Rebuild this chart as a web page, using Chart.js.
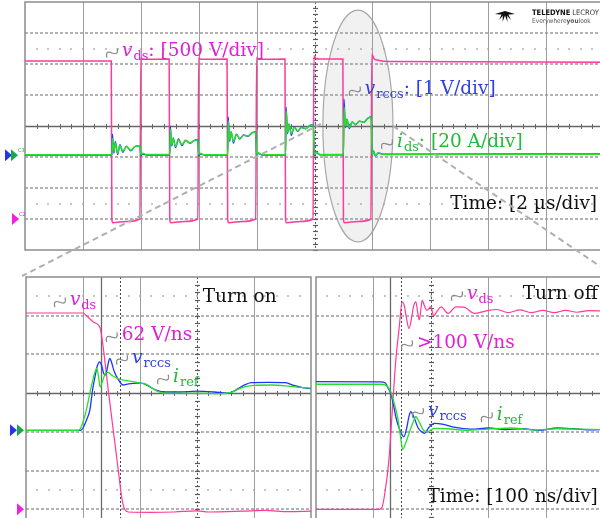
<!DOCTYPE html>
<html>
<head>
<meta charset="utf-8">
<script src="https://cdn.jsdelivr.net/npm/chart.js@4.4.1/dist/chart.umd.min.js"></script>
<style>
  html, body { margin: 0; padding: 0; background: #fff; overflow: hidden; }
  #wrap { position: relative; width: 600px; height: 518px; overflow: hidden; background: #fff; }
  canvas { position: absolute; }
</style>
</head>
<body>
<div id="wrap">
  <canvas id="topPlot" width="610" height="285" style="left:0;top:0"></canvas>
  <canvas id="onPlot" width="315" height="290" style="left:0;top:270px"></canvas>
  <canvas id="offPlot" width="300" height="290" style="left:310px;top:270px"></canvas>
</div>
<script>
// ---- data: [time, screen divisions] ----
// top screen, time in µs (2 µs/div)
const topVds = [[0,2.1],[2.98,2.1],[3.0,-3.0],[3.03,-3.12],[3.5,-3.08],[3.97,-3.0],[4.0,2.22],[4.06,2.15],[4.98,2.16],
  [5.0,-3.0],[5.03,-3.12],[5.5,-3.08],[5.97,-3.0],[6.0,2.22],[6.06,2.15],[6.98,2.16],
  [7.0,-3.0],[7.03,-3.12],[7.5,-3.08],[7.97,-3.0],[8.0,2.22],[8.06,2.15],[8.98,2.16],
  [9.0,-3.0],[9.03,-3.12],[9.5,-3.08],[9.95,-3.0],[9.98,2.27],[10.06,2.16],[10.98,2.16],
  [11.0,-3.0],[11.03,-3.12],[11.5,-3.08],[11.95,-3.0],[11.98,2.32],[12.05,2.18],[12.2,2.12],[12.6,2.08],[20,2.06]];
const topIds = [[0,-0.93],[3.0,-0.93],[3.02,-0.4],[3.07,-0.82],[3.12,-0.55],[3.2,-0.88],[3.28,-0.62],[3.38,-0.82],[3.5,-0.66],[3.65,-0.78],[3.8,-0.66],[3.97,-0.64],[4.0,-0.93],[4.05,-0.88],[4.2,-0.92],[5.0,-0.92],
  [5.02,-0.1],[5.07,-0.6],[5.12,-0.4],[5.2,-0.66],[5.3,-0.45],[5.42,-0.6],[5.55,-0.47],[5.7,-0.55],[5.85,-0.47],[5.97,-0.45],[6.0,-0.92],[6.05,-0.88],[6.2,-0.93],[7.0,-0.93],
  [7.02,0.16],[7.07,-0.45],[7.12,-0.2],[7.2,-0.5],[7.3,-0.28],[7.42,-0.4],[7.55,-0.3],[7.7,-0.32],[7.85,-0.22],[7.97,-0.2],[8.0,-0.93],[8.05,-0.86],[8.2,-0.93],[9.0,-0.93],
  [9.02,0.48],[9.07,-0.2],[9.12,0.05],[9.2,-0.25],[9.3,-0.05],[9.42,-0.15],[9.55,-0.05],[9.7,-0.08],[9.85,0.02],[9.96,0.03],[9.99,-0.93],[10.05,-0.85],[10.2,-0.92],[11.0,-0.92],
  [11.02,0.61],[11.07,0.0],[11.12,0.2],[11.2,-0.05],[11.3,0.12],[11.42,0.05],[11.55,0.15],[11.7,0.12],[11.85,0.25],[11.96,0.28],[11.99,-0.95],[12.04,-0.82],[12.1,-0.95],[12.2,-0.88],[12.4,-0.92],[20,-0.91]];
const topVrccs = [[0,-0.94],[3.0,-0.94],[3.02,-0.26],[3.07,-0.88],[3.12,-0.5],[3.2,-0.92],[3.28,-0.6],[3.38,-0.85],[3.5,-0.65],[3.65,-0.8],[3.8,-0.66],[3.97,-0.63],[4.0,-0.96],[4.05,-0.9],[4.2,-0.94],[5.0,-0.94],
  [5.02,0.0],[5.07,-0.65],[5.12,-0.38],[5.2,-0.7],[5.3,-0.42],[5.42,-0.63],[5.55,-0.46],[5.7,-0.56],[5.85,-0.46],[5.97,-0.44],[6.0,-0.96],[6.05,-0.9],[6.2,-0.94],[7.0,-0.94],
  [7.02,0.29],[7.07,-0.5],[7.12,-0.18],[7.2,-0.55],[7.3,-0.26],[7.42,-0.42],[7.55,-0.29],[7.7,-0.33],[7.85,-0.21],[7.97,-0.19],[8.0,-0.96],[8.05,-0.88],[8.2,-0.94],[9.0,-0.94],
  [9.02,0.61],[9.07,-0.25],[9.12,0.07],[9.2,-0.3],[9.3,-0.03],[9.42,-0.17],[9.55,-0.04],[9.7,-0.09],[9.85,0.03],[9.96,0.04],[9.99,-0.97],[10.05,-0.86],[10.2,-0.93],[11.0,-0.93],
  [11.02,0.87],[11.07,-0.05],[11.12,0.22],[11.2,-0.08],[11.3,0.13],[11.42,0.04],[11.55,0.16],[11.7,0.12],[11.85,0.26],[11.96,0.29],[11.99,-0.97],[12.04,-0.8],[12.1,-0.96],[12.2,-0.87],[12.4,-0.91],[20,-0.9]];

// turn-on zoom, time in ns (100 ns/div)
const onVds = [[0,2.07],[100,2.07],[106,2.0],[118,1.84],[128,1.74],[131,1.63],[145,0.0],[153,-0.95],[162,-2.0],[168,-2.7],[173,-3.0],[180,-3.07],
  [220,-3.08],[260,-3.07],[300,-3.04],[320,-3.07],[380,-3.05],[420,-3.03],[460,-3.06],[500,-3.05]];
const onVrccs = [[0,-0.96],[96,-0.96],[100,-0.9],[106,-0.7],[112,-0.44],[117,0.1],[121,0.42],[125,0.7],[129,0.81],[133,0.7],[136,0.52],[139,0.47],[142,0.6],[145,0.82],[147,0.9],[150,0.8],
  [155,0.55],[162,0.35],[170,0.21],[180,0.24],[195,0.26],[205,0.25],[215,0.18],[228,0.08],[245,0.03],[270,0.03],[300,0.05],[330,0.03],[355,0.0],[368,0.08],[382,0.2],[395,0.27],[425,0.28],[455,0.27],[470,0.2],[485,0.14],[500,0.12]];
const onIref = [[0,-0.96],[92,-0.96],[96,-0.9],[101,-0.7],[107,-0.36],[112,0.0],[116,0.26],[120,0.5],[124,0.64],[127,0.45],[130,0.16],[134,0.3],[139,0.5],[144,0.54],[150,0.47],[158,0.4],
  [166,0.35],[175,0.33],[190,0.29],[200,0.26],[212,0.22],[222,0.12],[232,0.04],[245,0.0],[300,0.0],[340,-0.01],[360,0.02],[372,0.1],[385,0.17],[400,0.2],[430,0.21],[455,0.19],[480,0.15],[500,0.13]];

// turn-off zoom, time in ns (100 ns/div)
const offVds = [[0,-3.0],[110,-3.0],[115,-2.95],[120,-2.58],[127,-1.73],[133,-0.44],[139,0.85],[145,1.7],[150,2.36],[154,2.25],[158,1.9],[162,1.67],[166,1.9],[170,2.25],[174,2.36],[177,2.1],
  [180,1.89],[183,2.2],[185,2.4],[189,2.25],[193,2.14],[200,2.23],[205,2.0],[211,2.12],[218,2.23],[230,2.06],[244,2.23],[258,2.22],[276,2.06],[295,2.12],[315,2.16],[335,2.08],[355,2.15],
  [375,2.08],[395,2.14],[415,2.08],[435,2.14],[455,2.09],[475,2.13],[500,2.12]];
const offVrccs = [[0,0.3],[112,0.29],[121,0.26],[126,0.12],[130,0.0],[135,-0.3],[139,-0.61],[146,-0.95],[153,-1.13],[158,-0.9],[162,-0.6],[165,-0.48],[170,-0.6],[178,-0.9],[184,-1.0],[189,-1.04],
  [196,-0.9],[206,-0.78],[220,-0.8],[240,-0.88],[270,-0.93],[300,-0.9],[330,-0.94],[360,-0.92],[390,-0.96],[420,-0.9],[450,-0.92],[480,-0.95],[500,-0.94]];
const offIref = [[0,0.23],[112,0.23],[122,0.2],[130,0.05],[136,-0.25],[142,-0.61],[147,-1.1],[151,-1.45],[156,-1.3],[162,-1.04],[168,-0.8],[174,-0.61],[180,-0.75],[187,-0.95],[194,-1.0],
  [206,-0.91],[230,-0.92],[260,-0.96],[300,-0.93],[340,-0.9],[380,-0.95],[420,-0.92],[460,-0.93],[500,-0.94]];

// channel offsets (divisions)
const currentOffset = -0.94;
const vdsOffset = -3;

const PINK = "#ff3a9a", BLUE = "#1f33ff", GREEN = "#25e02a";
const MAG = "#e01fd8", TBLUE = "#2f3fe6", TGREEN = "#1fbb3a";
const FONT = '"DejaVu Serif"';
const SANS_C = '"DejaVu Sans Condensed", "DejaVu Sans"';

function squiggle(ctx, cx, cy) {
  ctx.save();
  ctx.translate(cx, cy);
  ctx.rotate(-0.75);
  ctx.strokeStyle = "#8a8a8a";
  ctx.lineWidth = 1.2;
  ctx.beginPath();
  ctx.moveTo(-7, 0);
  ctx.bezierCurveTo(-4.5, -4.5, -2, -4.5, 0, 0);
  ctx.bezierCurveTo(2, 4.5, 4.5, 4.5, 7, 0);
  ctx.stroke();
  ctx.restore();
}

function richWidth(ctx, parts, size) {
  let w = 0;
  for (const [t, s] of parts) {
    const fs = s === "s" ? size * 0.7 : size;
    ctx.font = (s === "i" ? "italic " : "") + fs + "px " + FONT;
    w += ctx.measureText(t).width;
  }
  return w;
}

function drawRich(ctx, x, y, parts, color, size) {
  let cx = x;
  ctx.fillStyle = color;
  ctx.textBaseline = "alphabetic";
  ctx.textAlign = "left";
  for (const [t, s] of parts) {
    const fs = s === "s" ? size * 0.7 : size;
    ctx.font = (s === "i" ? "italic " : "") + fs + "px " + FONT;
    ctx.fillText(t, cx, y + (s === "s" ? size * 0.22 : 0));
    cx += ctx.measureText(t).width + (s === "i" ? 1 : 0);
  }
}

function screenPlugin(cfg) {
  return {
    id: "scopeScreen",
    beforeDatasetsDraw(chart) {
      const { ctx, chartArea: a, scales: { x, y } } = chart;
      const xd = (x.max - x.min) / cfg.xDivs;
      ctx.save();
      if (cfg.ellipse) {
        const e = cfg.ellipse;
        const cx = x.getPixelForValue(e.x), cy = y.getPixelForValue(e.y);
        const rx = Math.abs(x.getPixelForValue(e.x + e.rx) - cx);
        const ry = Math.abs(y.getPixelForValue(e.y + e.ry) - cy);
        ctx.beginPath();
        ctx.ellipse(cx, cy, rx, ry, 0, 0, Math.PI * 2);
        ctx.fillStyle = "rgba(120,120,120,0.1)";
        ctx.fill();
        ctx.strokeStyle = "#a8a8a8";
        ctx.lineWidth = 1.2;
        ctx.stroke();
      }
      // vertical grid
      ctx.strokeStyle = "#9e9e9e";
      ctx.lineWidth = 1;
      for (let i = 1; i < cfg.xDivs; i++) {
        if (i === cfg.xCenter) continue;
        const px = Math.round(x.getPixelForValue(x.min + i * xd)) + 0.5;
        ctx.beginPath(); ctx.moveTo(px, a.top); ctx.lineTo(px, a.bottom); ctx.stroke();
      }
      // horizontal dashed grid
      ctx.setLineDash([3, 2]);
      ctx.strokeStyle = "#9a9a9a";
      ctx.lineWidth = 1.6;
      for (let v = Math.ceil(y.min + 0.01); v < y.max; v++) {
        if (v === 0) continue;
        const py = Math.round(y.getPixelForValue(v));
        ctx.beginPath(); ctx.moveTo(a.left, py); ctx.lineTo(a.right, py); ctx.stroke();
      }
      ctx.setLineDash([]);
      // dotted rows at +-2.5 div
      ctx.fillStyle = "#9a9a9a";
      for (const r of [2.5, -2.5]) {
        if (r <= y.min || r >= y.max) continue;
        const py = Math.round(y.getPixelForValue(r));
        for (let i = 1; i < cfg.xDivs * 5; i++) {
          const px = Math.round(x.getPixelForValue(x.min + i * xd / 5));
          ctx.fillRect(px - 0.75, py - 0.75, 1.5, 1.5);
        }
      }
      // center vertical: dotted with ticks
      const pxc = Math.round(x.getPixelForValue(x.min + cfg.xCenter * xd)) + 0.5;
      ctx.strokeStyle = "#5a5a5a";
      ctx.lineWidth = 1;
      ctx.setLineDash([2, 2]);
      ctx.beginPath(); ctx.moveTo(pxc, a.top); ctx.lineTo(pxc, a.bottom); ctx.stroke();
      ctx.setLineDash([]);
      ctx.lineWidth = 1.2;
      for (let v = Math.ceil(y.min * 5) / 5; v <= y.max; v += 0.2) {
        const py = Math.round(y.getPixelForValue(v)) + 0.5;
        ctx.beginPath(); ctx.moveTo(pxc - 2.5, py); ctx.lineTo(pxc + 2.5, py); ctx.stroke();
      }
      // center horizontal: solid with ticks
      const py0 = Math.round(y.getPixelForValue(0)) + 0.5;
      ctx.strokeStyle = "#666";
      ctx.lineWidth = 1.6;
      ctx.beginPath(); ctx.moveTo(a.left, py0); ctx.lineTo(a.right, py0); ctx.stroke();
      ctx.lineWidth = 1;
      for (let i = 1; i < cfg.xDivs * 5; i++) {
        const px = Math.round(x.getPixelForValue(x.min + i * xd / 5)) + 0.5;
        ctx.beginPath(); ctx.moveTo(px, py0 - 2.5); ctx.lineTo(px, py0 + 2.5); ctx.stroke();
      }
      // cursors
      for (const c of cfg.cursors || []) {
        const px = Math.round(x.getPixelForValue(c.x)) + 0.5;
        ctx.strokeStyle = c.dotted ? "#444" : "#6a6a6a";
        ctx.lineWidth = c.dotted ? 1 : 1.3;
        ctx.setLineDash(c.dotted ? [2, 2] : []);
        ctx.beginPath(); ctx.moveTo(px, a.top); ctx.lineTo(px, a.bottom); ctx.stroke();
      }
      ctx.setLineDash([]);
      // border
      ctx.strokeStyle = "#8c8c8c";
      ctx.lineWidth = 1.5;
      ctx.strokeRect(a.left, a.top, a.right - a.left, a.bottom - a.top);
      ctx.restore();
    },
    afterDatasetsDraw(chart) {
      const { ctx, chartArea: a, scales: { x, y } } = chart;
      ctx.save();
      // channel markers
      for (const m of cfg.markers || []) {
        const py = y.getPixelForValue(m.y);
        const px = a.left + m.dx;
        ctx.fillStyle = m.color;
        ctx.beginPath();
        ctx.moveTo(px, py - 6);
        ctx.lineTo(px + 7, py);
        ctx.lineTo(px, py + 6);
        ctx.closePath();
        ctx.fill();
        if (m.tag) {
          ctx.font = "5px " + '"DejaVu Sans"';
          ctx.textAlign = "left";
          ctx.fillText(m.tag, px + 7, py - 3);
        }
      }
      // labels
      for (const l of cfg.labels || []) {
        const size = l.size || 18.5;
        let px = x.getPixelForValue(l.x);
        const py = y.getPixelForValue(l.y);
        if (l.align === "right") px -= richWidth(ctx, l.parts, size);
        if (l.sq) squiggle(ctx, px - 10, py - 3);
        drawRich(ctx, px, py, l.parts, l.color, size);
      }
      // zoom connectors from the ellipse
      if (cfg.connectors) {
        const e = cfg.ellipse;
        const cy = y.getPixelForValue(e.y);
        const lx = x.getPixelForValue(e.x - e.rx), rx = x.getPixelForValue(e.x + e.rx);
        ctx.strokeStyle = "#b0b0b0";
        ctx.lineWidth = 2;
        ctx.setLineDash([6, 4]);
        ctx.beginPath();
        ctx.moveTo(lx - 2, cy - 2); ctx.lineTo(a.left - 3, chart.height - 9);
        ctx.moveTo(rx, cy); ctx.lineTo(a.right, chart.height - 16);
        ctx.stroke();
        ctx.setLineDash([]);
      }
      // scope logo
      if (cfg.logo) {
        const lx = a.right - 99, ly = a.top + 10;
        ctx.fillStyle = "#111";
        // wings
        ctx.beginPath();
        ctx.moveTo(lx - 10, ly + 2);
        ctx.lineTo(lx, ly - 1);
        ctx.lineTo(lx + 10, ly + 2);
        ctx.lineTo(lx, ly + 3);
        ctx.closePath();
        ctx.fill();
        // tail feathers
        for (const [tx, ty] of [[-6, 8], [-2.5, 10], [2.5, 10], [6, 8]]) {
          ctx.beginPath();
          ctx.moveTo(lx + tx * 0.2 - 1.5, ly + 1);
          ctx.lineTo(lx + tx * 0.2 + 1.5, ly + 1);
          ctx.lineTo(lx + tx, ly + ty);
          ctx.closePath();
          ctx.fill();
        }
        const tx0 = lx + 27;
        ctx.textAlign = "left";
        ctx.textBaseline = "alphabetic";
        ctx.font = "bold 7.5px " + SANS_C;
        ctx.fillText("TELEDYNE", tx0, ly + 3);
        const w = ctx.measureText("TELEDYNE").width + 2;
        ctx.fillStyle = "#333";
        ctx.font = "7.5px " + SANS_C;
        ctx.fillText("LECROY", tx0 + w, ly + 3);
        ctx.fillStyle = "#555";
        ctx.font = "6.5px " + SANS_C;
        ctx.fillText("Everywhere", tx0, ly + 11);
        let w2 = ctx.measureText("Everywhere").width;
        ctx.font = "bold 6.5px " + SANS_C;
        ctx.fillText("you", tx0 + w2, ly + 11);
        w2 += ctx.measureText("you").width;
        ctx.font = "6.5px " + SANS_C;
        ctx.fillText("look", tx0 + w2, ly + 11);
      }
      ctx.restore();
    }
  };
}

function trace(points, color, width) {
  return {
    data: points.map(([t, v]) => ({ x: t, y: v })),
    borderColor: color,
    borderWidth: width,
    pointRadius: 0,
    cubicInterpolationMode: "monotone",
    fill: false
  };
}

function scopeChart(id, xMax, yMin, yMax, padding, datasets, cfg) {
  return new Chart(document.getElementById(id), {
    type: "line",
    data: { datasets },
    options: {
      responsive: false,
      animation: false,
      events: [],
      layout: { padding },
      scales: {
        x: { type: "linear", min: 0, max: xMax, display: false },
        y: { type: "linear", min: yMin, max: yMax, display: false }
      },
      plugins: { legend: { display: false }, tooltip: { enabled: false } }
    },
    plugins: [screenPlugin(cfg)]
  });
}

const vdsParts = [["v", "i"], ["ds", "s"]];
const rccsParts = [["v", "i"], ["rccs", "s"]];
const irefParts = [["i", "i"], ["ref", "s"]];

scopeChart("topPlot", 20, -4, 4, { left: 25, top: 2, right: 6, bottom: 35 },
  [trace(topIds, GREEN, 1.5), trace(topVrccs, BLUE, 1.3), trace(topVds, PINK, 1.5)],
  {
    xDivs: 10, xCenter: 5,
    ellipse: { x: 11.5, y: 0.0, rx: 1.21, ry: 3.74 },
    connectors: true, logo: true,
    markers: [
      { y: currentOffset, dx: -20, color: "#2536e8" },
      { y: currentOffset, dx: -14, color: "#16a84a", tag: "C3" },
      { y: vdsOffset, dx: -13, color: "#f020e0", tag: "C2" }
    ],
    labels: [
      { x: 3.35, y: 2.26, sq: true, color: MAG, parts: [...vdsParts, [": [500 V/div]", ""]] },
      { x: 11.74, y: 1.03, sq: true, color: TBLUE, parts: [...rccsParts, [": [1 V/div]", ""]] },
      { x: 12.85, y: -0.68, sq: true, color: TGREEN, parts: [["i", "i"], ["ds", "s"], [": [20 A/div]", ""]] },
      { x: 19.76, y: -2.68, align: "right", color: "#111", parts: [["Time: [2 µs/div]", ""]] }
    ]
  });

scopeChart("onPlot", 500, -4, 3, { left: 26, top: 7, right: 4, bottom: 12 },
  [trace(onIref, GREEN, 1.3), trace(onVrccs, BLUE, 1.3), trace(onVds, PINK, 1.2)],
  {
    xDivs: 5, xCenter: 3,
    cursors: [{ x: 132 }, { x: 165, dotted: true }],
    markers: [
      { y: -0.96, dx: -16, color: "#2536e8" },
      { y: -0.96, dx: -9, color: "#16a84a" },
      { y: vdsOffset, dx: -9, color: "#f020e0" }
    ],
    labels: [
      { x: 77, y: 2.27, sq: true, color: MAG, parts: vdsParts },
      { x: 310, y: 2.35, color: "#111", parts: [["Turn on", ""]] },
      { x: 168, y: 1.37, sq: true, color: MAG, parts: [["62 V/ns", ""]] },
      { x: 186, y: 0.78, sq: true, color: TBLUE, parts: rccsParts },
      { x: 258, y: 0.28, sq: true, color: TGREEN, parts: irefParts }
    ]
  });

scopeChart("offPlot", 500, -4, 3, { left: 6, top: 7, right: 7, bottom: 12 },
  [trace(offIref, GREEN, 1.3), trace(offVrccs, BLUE, 1.3), trace(offVds, PINK, 1.2)],
  {
    xDivs: 5, xCenter: 2,
    cursors: [{ x: 129 }, { x: 148, dotted: true }],
    labels: [
      { x: 263, y: 2.43, sq: true, color: MAG, parts: vdsParts },
      { x: 491, y: 2.43, align: "right", color: "#111", parts: [["Turn off", ""]] },
      { x: 176, y: 1.16, sq: true, color: MAG, parts: [[">100 V/ns", ""]] },
      { x: 195, y: -0.59, sq: true, color: TBLUE, parts: rccsParts },
      { x: 315, y: -0.70, sq: true, color: TGREEN, parts: irefParts },
      { x: 491, y: -2.82, align: "right", color: "#111", parts: [["Time: [100 ns/div]", ""]] }
    ]
  });
</script>
</body>
</html>
